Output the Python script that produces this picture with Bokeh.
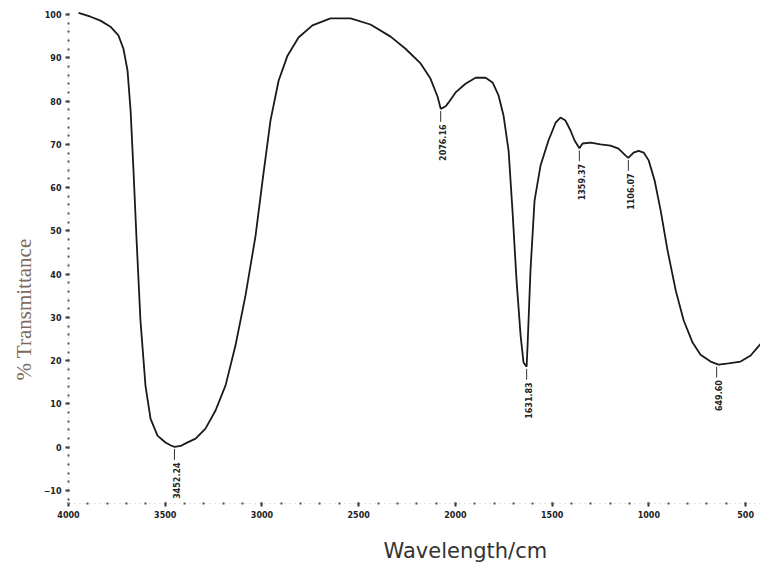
from bokeh.plotting import figure
from bokeh.models import Range1d, FixedTicker, Title, ColumnDataSource
from bokeh.core.properties import value
from bokeh.embed import file_html
from bokeh.resources import INLINE
import math

# ---- data ----
wavenumber = [3948, 3886, 3835, 3783, 3742, 3716, 3695, 3679, 3664, 3648, 3628, 3602,
              3576, 3540, 3499, 3470, 3452, 3420, 3395, 3343, 3292, 3240, 3188, 3137,
              3085, 3033, 2997, 2956, 2914, 2868, 2811, 2739, 2646, 2542, 2439, 2335,
              2258, 2180, 2129, 2092, 2076, 2050, 2035, 1999, 1948, 1896, 1844, 1808,
              1777, 1751, 1725, 1705, 1684, 1663, 1648, 1632, 1627, 1612, 1591, 1560,
              1519, 1482, 1457, 1431, 1405, 1384, 1359, 1343, 1301, 1250, 1198, 1157,
              1120, 1106, 1079, 1053, 1027, 1001, 970, 939, 903, 861, 820, 774, 733,
              681, 640, 588, 526, 474, 438, 410]
transmittance = [100.4, 99.5, 98.6, 97.2, 95.2, 92.1, 87.1, 77.8, 63.9, 47.8, 29.3, 14.2,
                 6.6, 2.7, 1.1, 0.4, 0.1, 0.3, 0.9, 2.0, 4.3, 8.5, 14.3, 23.5,
                 35.1, 48.9, 61.6, 75.5, 84.7, 90.5, 94.7, 97.5, 99.1, 99.1, 97.7, 94.9,
                 92.1, 88.7, 85.2, 81.0, 78.2, 78.8, 79.7, 82.0, 84.0, 85.4, 85.4, 84.3,
                 81.3, 76.6, 68.5, 54.7, 38.5, 25.8, 19.6, 18.6, 23.5, 40.8, 57.0, 65.1,
                 70.9, 75.0, 76.2, 75.5, 73.2, 70.9, 69.1, 70.2, 70.4, 70.0, 69.7, 69.0,
                 67.4, 66.9, 68.1, 68.5, 68.1, 66.3, 61.6, 54.7, 45.4, 36.2, 29.3, 24.2, 21.4,
                 19.8, 19.1, 19.4, 19.8, 21.2, 23.1, 24.5]

peak_positions = [3452.24, 2076.16, 1631.83, 1359.37, 1106.07, 649.60]
peak_values = [0.1, 78.2, 18.6, 69.1, 66.9, 19.1]
peak_labels = ["3452.24", "2076.16", "1631.83", "1359.37", "1106.07", "649.60"]

x_ticks = [4000, 3500, 3000, 2500, 2000, 1500, 1000, 500]
y_ticks = [-10, 0, 10, 20, 30, 40, 50, 60, 70, 80, 90, 100]

x_title = "Wavelength/cm"
y_title = "% Transmittance"

W, H = 760, 579

p = figure(width=W, height=H, output_backend="svg", toolbar_location=None,
           x_range=Range1d(4000, 423), y_range=Range1d(-13.0, 101.4),
           min_border_left=68, min_border_right=0, min_border_top=8,
           min_border_bottom=76)
p.outline_line_color = None
p.grid.visible = False
p.background_fill_color = "white"
p.border_fill_color = "white"

p.line(wavenumber, transmittance, line_color="#1a1a1a", line_width=1.8)

# peak markers and labels
seg_src = ColumnDataSource(dict(
    x=peak_positions,
    y0=[v - 0.5 for v in peak_values],
    y1=[v - 3.0 for v in peak_values],
))
p.segment(x0="x", y0="y0", x1="x", y1="y1", source=seg_src,
          line_color="#333333", line_width=1)
txt_src = ColumnDataSource(dict(
    x=peak_positions,
    y=[v - 3.6 for v in peak_values],
    t=peak_labels,
))
p.text(x="x", y="y", text="t", source=txt_src, angle=math.pi / 2,
       text_align="right", text_baseline="middle", x_offset=2,
       text_font=value("DejaVu Sans"), text_font_size="8px",
       text_font_style="bold", text_color="#222222")

# axes styling
for ax in (p.xaxis[0], p.yaxis[0]):
    ax.axis_line_color = "#c8c8c8"
    ax.axis_line_dash = "1 4"
    ax.major_tick_line_color = "#333333"
    ax.major_tick_line_width = 2
    ax.major_tick_out = 3
    ax.major_tick_in = 1
    ax.minor_tick_line_color = "#555555"
    ax.minor_tick_line_width = 2
    ax.minor_tick_out = 1
    ax.minor_tick_in = 1
    ax.major_label_text_font = "DejaVu Sans"
    ax.major_label_text_font_size = "8px"
    ax.major_label_text_font_style = "bold"
    ax.major_label_text_color = "#222222"

p.xaxis.ticker = FixedTicker(ticks=x_ticks,
                             minor_ticks=list(range(500, 4001, 100)))
p.yaxis.ticker = FixedTicker(ticks=y_ticks,
                             minor_ticks=list(range(-12, 101, 2)))
p.xaxis.major_label_standoff = 4
p.yaxis.major_label_standoff = 4

# axis titles as side titles, shifted along the frame with offset
p.add_layout(Title(text=x_title, align="left", offset=315, standoff=32,
                   text_font="DejaVu Sans", text_font_size="21px",
                   text_font_style="normal", text_color="#333333"), "below")
p.add_layout(Title(text=y_title, align="left", offset=123, standoff=9,
                   text_font="Liberation Serif", text_font_size="21px",
                   text_font_style="normal", text_color="#7d6b5d"), "left")

open("out.html", "w").write(file_html(p, INLINE))
